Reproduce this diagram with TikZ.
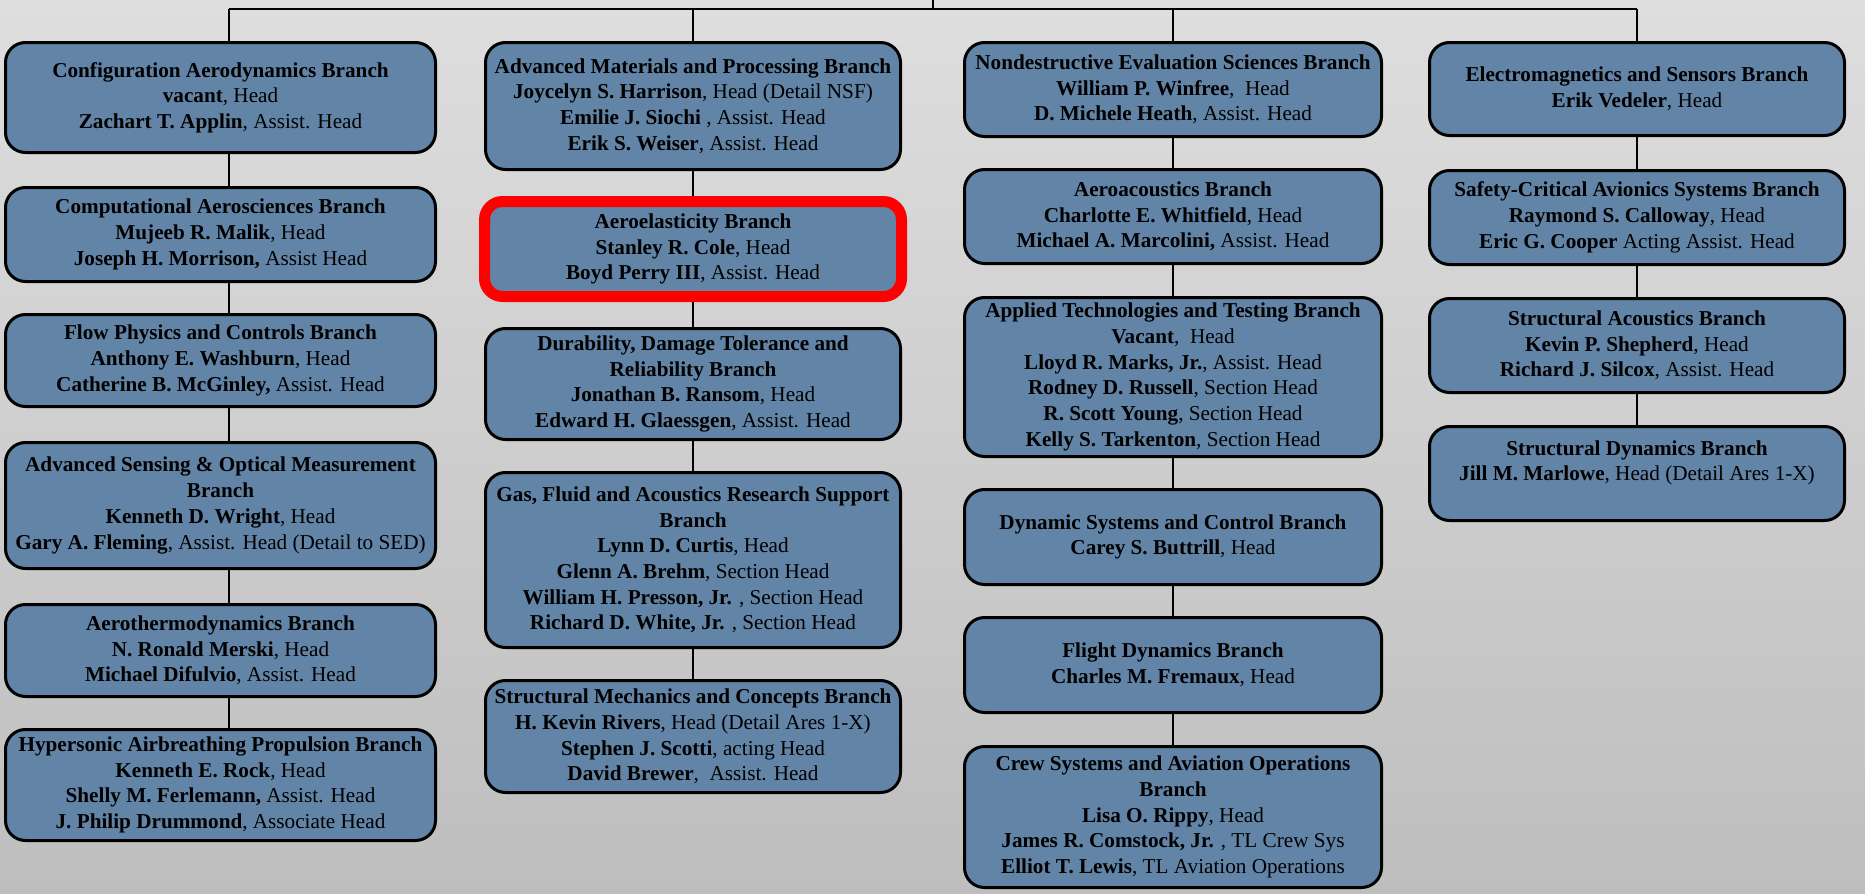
\documentclass[tikz,border=0pt]{standalone}
\usepackage{fontspec}
\setmainfont{Liberation Serif}
\usetikzlibrary{shapes, arrows, arrows.meta}
\definecolor{boxblue}{RGB}{98,132,166}
\definecolor{bgtop}{RGB}{222,222,222}
\definecolor{bgbot}{RGB}{190,190,190}
\newcommand{\branchfont}{\fontsize{10.6}{12.85}\selectfont}
\tikzset{
  branch/.style={draw=black, line width=1.5pt, fill=boxblue, rounded corners=10pt,
    align=center, inner sep=0pt, font=\branchfont},
  colA/.style={minimum width=215pt},
  colB/.style={minimum width=207.5pt},
  colC/.style={minimum width=208.5pt},
  colD/.style={minimum width=207.5pt},
  link/.style={line width=0.9pt}
}

\begin{document}
\begin{tikzpicture}[x=0.5pt, y=-0.5pt]
            \shade[top color=bgtop, bottom color=bgbot] (0,0) rectangle (1865,894);
            \useasboundingbox (0,0) rectangle (1865,894);

            \node[branch, colA, minimum height=55pt] (cfg) at (220.5, 97.5) {\textbf{Configuration Aerodynamics Branch}\\\textbf{vacant}, Head\\\textbf{Zachart T. Applin}, Assist. Head};
            \node[branch, colA, minimum height=47pt] (cas) at (220.5, 234.5) {\textbf{Computational Aerosciences Branch}\\\textbf{Mujeeb R. Malik}, Head\\\textbf{Joseph H. Morrison,} Assist Head};
            \node[branch, colA, minimum height=46pt] (fpc) at (220.5, 360.5) {\textbf{Flow Physics and Controls Branch}\\\textbf{Anthony E. Washburn}, Head\\\textbf{Catherine B. McGinley,} Assist. Head};
            \node[branch, colA, minimum height=63pt] (asom) at (220.5, 505.5) {\textbf{Advanced Sensing \& Optical Measurement}\\\textbf{Branch}\\\textbf{Kenneth D. Wright}, Head\\\textbf{Gary A. Fleming}, Assist. Head (Detail to SED)};
            \node[branch, colA, minimum height=46pt] (atd) at (220.5, 650.5) {\textbf{Aerothermodynamics Branch}\\\textbf{N. Ronald Merski}, Head\\\textbf{Michael Difulvio}, Assist. Head};
            \node[branch, colA, minimum height=55.5pt] (hap) at (220.5, 785) {\textbf{Hypersonic Airbreathing Propulsion Branch}\\\textbf{Kenneth E. Rock}, Head\\\textbf{Shelly M. Ferlemann,} Assist. Head\\\textbf{J. Philip Drummond}, Associate Head};

            \node[branch, colB, minimum height=63.5pt] (amp) at (693, 106) {\textbf{Advanced Materials and Processing Branch}\\\textbf{Joycelyn S. Harrison}, Head (Detail NSF)\\\textbf{Emilie J. Siochi} , Assist. Head\\\textbf{Erik S. Weiser}, Assist. Head};
            \node[branch, draw=red, line width=5.5pt, rounded corners=9pt, minimum width=208.5pt, minimum height=47.5pt] (aeb) at (693, 249) {\textbf{Aeroelasticity Branch}\\\textbf{Stanley R. Cole}, Head\\\textbf{Boyd Perry III}, Assist. Head};
            \node[branch, colB, minimum height=55.5pt] (ddtr) at (693, 384) {\textbf{Durability, Damage Tolerance and}\\\textbf{Reliability Branch}\\\textbf{Jonathan B. Ransom}, Head\\\textbf{Edward H. Glaessgen}, Assist. Head};
            \node[branch, colB, minimum height=87.5pt] (gfa) at (693, 560) {\textbf{Gas, Fluid and Acoustics Research Support}\\\textbf{Branch}\\\textbf{Lynn D. Curtis}, Head\\\textbf{Glenn A. Brehm}, Section Head\\\textbf{William H. Presson, Jr.} , Section Head\\\textbf{Richard D. White, Jr.} , Section Head};
            \node[branch, colB, minimum height=56pt] (smc) at (693, 736.5) {\textbf{Structural Mechanics and Concepts Branch}\\\textbf{H. Kevin Rivers}, Head (Detail Ares 1-X)\\\textbf{Stephen J. Scotti}, acting Head\\\textbf{David Brewer},~ Assist. Head};

            \node[branch, colC, minimum height=47pt] (nde) at (1173, 89.5) {\textbf{Nondestructive Evaluation Sciences Branch}\\\textbf{William P. Winfree},~ Head\\\textbf{D. Michele Heath}, Assist. Head};
            \node[branch, colC, minimum height=47pt] (aac) at (1173, 216.5) {\textbf{Aeroacoustics Branch}\\\textbf{Charlotte E. Whitfield}, Head\\\textbf{Michael A. Marcolini,} Assist. Head};
            \node[branch, colC, minimum height=79.5pt] (att) at (1173, 377) {\textbf{Applied Technologies and Testing Branch}\\\textbf{Vacant},~ Head\\\textbf{Lloyd R. Marks, Jr.}, Assist. Head\\\textbf{Rodney D. Russell}, Section Head\\\textbf{R. Scott Young}, Section Head\\\textbf{Kelly S. Tarkenton}, Section Head};
            \node[branch, colC, minimum height=47.5pt] (dsc) at (1173, 537) {\textbf{Dynamic Systems and Control Branch}\\\textbf{Carey S. Buttrill}, Head};
            \node[branch, colC, minimum height=47.5pt] (fdb) at (1173, 665) {\textbf{Flight Dynamics Branch}\\\textbf{Charles M. Fremaux}, Head};
            \node[branch, colC, minimum height=70.5pt] (csao) at (1173, 817) {\textbf{Crew Systems and Aviation Operations}\\\textbf{Branch}\\\textbf{Lisa O. Rippy}, Head\\\textbf{James R. Comstock, Jr.} , TL Crew Sys\\\textbf{Elliot T. Lewis}, TL Aviation Operations};

            \node[branch, colD, minimum height=46.5pt] (ems) at (1637, 89) {\textbf{Electromagnetics and Sensors Branch}\\\textbf{Erik Vedeler}, Head};
            \node[branch, colD, minimum height=47pt] (scas) at (1637, 217.5) {\textbf{Safety-Critical Avionics Systems Branch}\\\textbf{Raymond S. Calloway}, Head\\\textbf{Eric G. Cooper} Acting Assist. Head};
            \node[branch, colD, minimum height=47pt] (sab) at (1637, 345.5) {\textbf{Structural Acoustics Branch}\\\textbf{Kevin P. Shepherd}, Head\\\textbf{Richard J. Silcox}, Assist. Head};
            \node[branch, colD, minimum height=47pt] (sdb) at (1637, 473.5) {\textbf{Structural Dynamics Branch}\\\textbf{Jill M. Marlowe}, Head (Detail Ares 1-X)\\\mbox{}};

            \coordinate (top) at (933, 0);
            \coordinate (busL) at (229, 9);
            \coordinate (busR) at (1637, 9);

            \draw[link] (busL) -- (busR);
            \draw[link] (top) -- (top |- busL);
            \draw[link] (busL) -- ([xshift=4.25pt]cfg.north);
            \draw[link] (amp.north |- busL) -- (amp.north);
            \draw[link] (nde.north |- busL) -- (nde.north);
            \draw[link] (busR) -- (ems.north);

            \draw[link] ([xshift=4.25pt]cfg.south) -- ([xshift=4.25pt]cas.north);
            \draw[link] ([xshift=4.25pt]cas.south) -- ([xshift=4.25pt]fpc.north);
            \draw[link] ([xshift=4.25pt]fpc.south) -- ([xshift=4.25pt]asom.north);
            \draw[link] ([xshift=4.25pt]asom.south) -- ([xshift=4.25pt]atd.north);
            \draw[link] ([xshift=4.25pt]atd.south) -- ([xshift=4.25pt]hap.north);

            \draw[link] (amp) -- (aeb);
            \draw[link] (aeb) -- (ddtr);
            \draw[link] (ddtr) -- (gfa);
            \draw[link] (gfa) -- (smc);

            \draw[link] (nde) -- (aac);
            \draw[link] (aac) -- (att);
            \draw[link] (att) -- (dsc);
            \draw[link] (dsc) -- (fdb);
            \draw[link] (fdb) -- (csao);

            \draw[link] (ems) -- (scas);
            \draw[link] (scas) -- (sab);
            \draw[link] (sab) -- (sdb);
    	\end{tikzpicture}
\end{document}
